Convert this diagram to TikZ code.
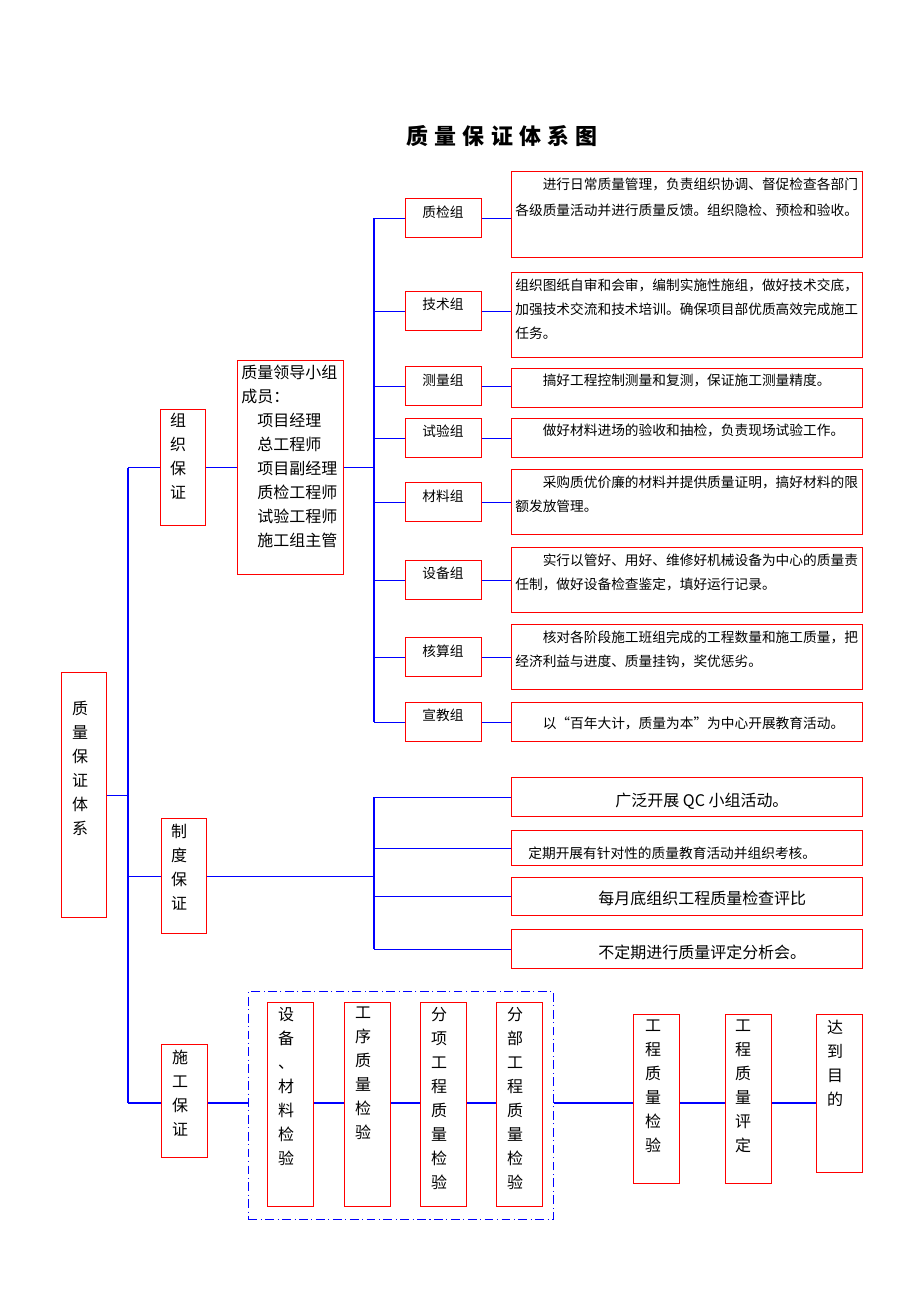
\documentclass[tikz,border=0pt]{standalone}
\usepackage{fontspec}
\setmainfont{Noto Sans CJK SC}
\usepackage{xcolor}
\usepackage{tikz}

\begin{document}
\begin{tikzpicture}[x=0.02cm, y=-0.02cm,
    rbox/.style={draw=red, line width=0.8pt, anchor=north west, inner sep=0pt},
    wh/.style 2 args={minimum width=#1*0.02cm, minimum height=#2*0.02cm},
    bl/.style={draw=blue, line width=0.6pt},
    vtxt/.style={anchor=north, align=center, inner sep=0pt,
      font=\fontsize{9.1pt}{13.66pt}\selectfont},
    gtxt/.style={inner sep=0pt, font=\fontsize{7.8pt}{9pt}\selectfont},
    dtxt/.style={anchor=north west, align=left, inner sep=0pt,
      font=\fontsize{7.8pt}{13.66pt}\selectfont}]
    \useasboundingbox (0,0) rectangle (920,1302);

    \node[font=\fontsize{12.5pt}{15pt}\selectfont\bfseries\addfontfeature{LetterSpace=28}]
      (title) at (502,136) {质量保证体系图};

    \coordinate (trunk) at (128,0);
    \coordinate (gx) at (374,0);
    \coordinate (sy) at (0,1103);

    \node[rbox, wh={45}{245}] (zlbz) at (61,672) {};
    \node[vtxt] (zlbzt) at (80,701) {质\\量\\保\\证\\体\\系};

    \node[rbox, wh={45}{116}] (zzbz) at (160,409) {};
    \node[vtxt] (zzbzt) at (178,413) {组\\织\\保\\证};
    \node[rbox, wh={106}{214}] (ldxz) at (237,360) {};
    \node[dtxt, font=\fontsize{9.1pt}{13.66pt}\selectfont] (ldxzt) at (241,365)
      {质量领导小组\\成员：\\\hspace*{1em}项目经理\\\hspace*{1em}总工程师\\\hspace*{1em}项目副经理\\\hspace*{1em}质检工程师\\\hspace*{1em}试验工程师\\\hspace*{1em}施工组主管};

    \node[rbox, wh={76}{39}] (g1) at (405,198) {};
    \node[gtxt] (g1t) at (443,212) {质检组};
    \node[rbox, wh={76}{39}] (g2) at (405,291) {};
    \node[gtxt] (g2t) at (443,304) {技术组};
    \node[rbox, wh={76}{39}] (g3) at (405,366) {};
    \node[gtxt] (g3t) at (443,380) {测量组};
    \node[rbox, wh={76}{39}] (g4) at (405,418) {};
    \node[gtxt] (g4t) at (443,431) {试验组};
    \node[rbox, wh={76}{39}] (g5) at (405,482) {};
    \node[gtxt] (g5t) at (443,496) {材料组};
    \node[rbox, wh={76}{39}] (g6) at (405,560) {};
    \node[gtxt] (g6t) at (443,573) {设备组};
    \node[rbox, wh={76}{39}] (g7) at (405,637) {};
    \node[gtxt] (g7t) at (443,651) {核算组};
    \node[rbox, wh={76}{39}] (g8) at (405,702) {};
    \node[gtxt] (g8t) at (443,715) {宣教组};

    \node[rbox, wh={351}{86}] (d1) at (511,171) {};
    \node[dtxt, font=\fontsize{7.8pt}{14.8pt}\selectfont] (d1t) at (515,178)
      {\hspace*{2em}进行日常质量管理，负责组织协调、督促检查各部门\\各级质量活动并进行质量反馈。组织隐检、预检和验收。};
    \node[rbox, wh={351}{85}] (d2) at (511,272) {};
    \node[dtxt] (d2t) at (515,279)
      {组织图纸自审和会审，编制实施性施组，做好技术交底，\\加强技术交流和技术培训。确保项目部优质高效完成施工\\任务。};
    \node[rbox, wh={351}{39}] (d3) at (511,368) {};
    \node[dtxt] (d3t) at (515,374) {\hspace*{2em}搞好工程控制测量和复测，保证施工测量精度。};
    \node[rbox, wh={351}{39}] (d4) at (511,418) {};
    \node[dtxt] (d4t) at (515,424) {\hspace*{2em}做好材料进场的验收和抽检，负责现场试验工作。};
    \node[rbox, wh={351}{65}] (d5) at (511,469) {};
    \node[dtxt] (d5t) at (515,476)
      {\hspace*{2em}采购质优价廉的材料并提供质量证明，搞好材料的限\\额发放管理。};
    \node[rbox, wh={351}{65}] (d6) at (511,547) {};
    \node[dtxt] (d6t) at (515,554)
      {\hspace*{2em}实行以管好、用好、维修好机械设备为中心的质量责\\任制，做好设备检查鉴定，填好运行记录。};
    \node[rbox, wh={351}{65}] (d7) at (511,624) {};
    \node[dtxt] (d7t) at (515,631)
      {\hspace*{2em}核对各阶段施工班组完成的工程数量和施工质量，把\\经济利益与进度、质量挂钩，奖优惩劣。};
    \node[rbox, wh={351}{39}] (d8) at (511,702) {};
    \node[dtxt] (d8t) at (515,717) {\hspace*{2em}以“百年大计，质量为本”为中心开展教育活动。};

    \node[rbox, wh={45}{115}] (zdbz) at (161,818) {};
    \node[vtxt] (zdbzt) at (179,824) {制\\度\\保\\证};
    \node[rbox, wh={351}{39}] (z1) at (511,777) {};
    \node[anchor=west, inner sep=0pt, font=\fontsize{9.1pt}{11pt}\selectfont] (z1t) at (615,801) {广泛开展 QC 小组活动。};
    \node[rbox, wh={351}{35}] (z2) at (511,830) {};
    \node[anchor=west, inner sep=0pt, font=\fontsize{7.8pt}{9pt}\selectfont] (z2t) at (528,853) {定期开展有针对性的质量教育活动并组织考核。};
    \node[rbox, wh={351}{38}] (z3) at (511,877) {};
    \node[anchor=west, inner sep=0pt, font=\fontsize{9.1pt}{11pt}\selectfont] (z3t) at (598,898) {每月底组织工程质量检查评比};
    \node[rbox, wh={351}{39}] (z4) at (511,929) {};
    \node[anchor=west, inner sep=0pt, font=\fontsize{9.1pt}{11pt}\selectfont] (z4t) at (598,952) {不定期进行质量评定分析会。};

    \node[rbox, wh={46}{113}] (sgbz) at (161,1044) {};
    \node[vtxt] (sgbzt) at (180,1050) {施\\工\\保\\证};
    \node[draw=blue, line width=0.6pt, dash pattern=on 5pt off 2pt on 0.6pt off 2pt,
      anchor=north west, inner sep=0pt, wh={305}{228}] (xk) at (248,991) {};
    \node[rbox, wh={46}{204}] (s1) at (267,1002) {};
    \node[vtxt] (s1t) at (286,1007) {设\\备\\、\\材\\料\\检\\验};
    \node[rbox, wh={46}{204}] (s2) at (344,1002) {};
    \node[vtxt] (s2t) at (363,1007) {工\\序\\质\\量\\检\\验};
    \node[rbox, wh={46}{204}] (s3) at (420,1002) {};
    \node[vtxt] (s3t) at (439,1007) {分\\项\\工\\程\\质\\量\\检\\验};
    \node[rbox, wh={46}{204}] (s4) at (496,1002) {};
    \node[vtxt] (s4t) at (515,1007) {分\\部\\工\\程\\质\\量\\检\\验};
    \node[rbox, wh={46}{169}] (e1) at (633,1014) {};
    \node[vtxt] (e1t) at (653,1020) {工\\程\\质\\量\\检\\验};
    \node[rbox, wh={46}{169}] (e2) at (725,1014) {};
    \node[vtxt] (e2t) at (743,1020) {工\\程\\质\\量\\评\\定};
    \node[rbox, wh={46}{158}] (e3) at (816,1014) {};
    \node[vtxt] (e3t) at (835,1020) {达\\到\\目\\的};

    \draw[bl] (zlbz.east) -- (zlbz.east -| trunk);
    \draw[bl] (zzbz.west -| trunk) -- (sy -| trunk);
    \draw[bl] (zzbz.west -| trunk) -- (zzbz.west);
    \draw[bl] (zdbz.west -| trunk) -- (zdbz.west);
    \draw[bl] (sy -| trunk) -- (sy -| sgbz.west);

    \draw[bl] (zzbz.east) -- (ldxz.west |- zzbz.east);
    \draw[bl] (ldxz.east) -- (ldxz.east -| gx);
    \draw[bl] (g1.west -| gx) -- (g8.west -| gx);
    \draw[bl] (g1.west -| gx) -- (g1.west);
    \draw[bl] (g2.west -| gx) -- (g2.west);
    \draw[bl] (g3.west -| gx) -- (g3.west);
    \draw[bl] (g4.west -| gx) -- (g4.west);
    \draw[bl] (g5.west -| gx) -- (g5.west);
    \draw[bl] (g6.west -| gx) -- (g6.west);
    \draw[bl] (g7.west -| gx) -- (g7.west);
    \draw[bl] (g8.west -| gx) -- (g8.west);
    \draw[bl] (g1.east) -- (g1.east -| d1.west);
    \draw[bl] (g2.east) -- (g2.east -| d2.west);
    \draw[bl] (g3.east) -- (g3.east -| d3.west);
    \draw[bl] (g4.east) -- (g4.east -| d4.west);
    \draw[bl] (g5.east) -- (g5.east -| d5.west);
    \draw[bl] (g6.east) -- (g6.east -| d6.west);
    \draw[bl] (g7.east) -- (g7.east -| d7.west);
    \draw[bl] (g8.east) -- (g8.east -| d8.west);

    \draw[bl] (zdbz.east) -- (zdbz.east -| gx);
    \draw[bl] (z1.west -| gx) -- (z4.west -| gx);
    \draw[bl] (z1.west -| gx) -- (z1.west);
    \draw[bl] (z2.west -| gx) -- (z2.west);
    \draw[bl] (z3.west -| gx) -- (z3.west);
    \draw[bl] (z4.west -| gx) -- (z4.west);

    \draw[bl] (sy -| sgbz.east) -- (sy -| xk.west);
    \draw[bl] (sy -| s1.east) -- (sy -| s2.west);
    \draw[bl] (sy -| s2.east) -- (sy -| s3.west);
    \draw[bl] (sy -| s3.east) -- (sy -| s4.west);
    \draw[bl] (sy -| xk.east) -- (sy -| e1.west);
    \draw[bl] (sy -| e1.east) -- (sy -| e2.west);
    \draw[bl] (sy -| e2.east) -- (sy -| e3.west);
\end{tikzpicture}
\end{document}
